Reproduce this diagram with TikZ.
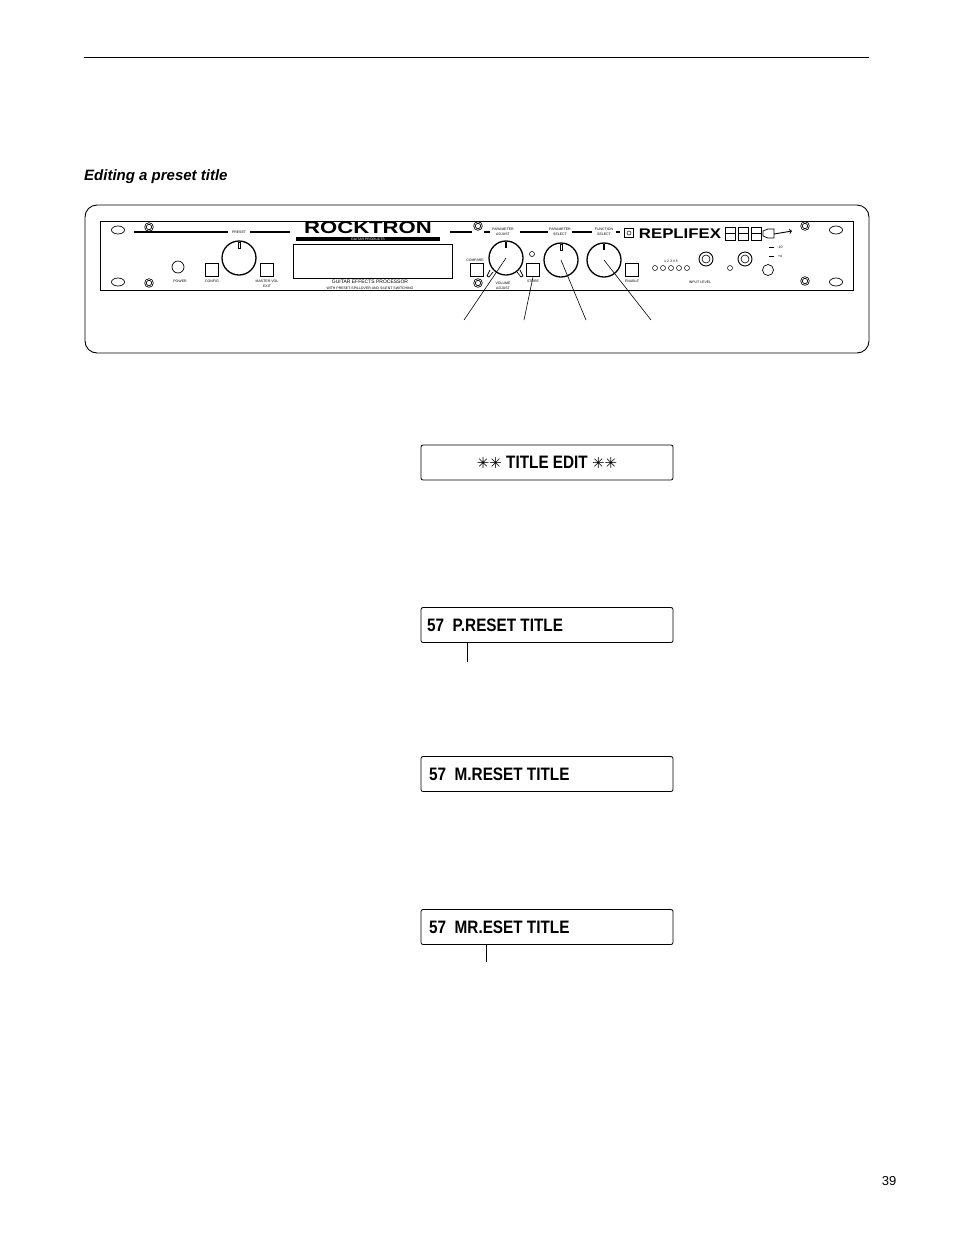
\documentclass[tikz,border=0pt]{standalone}
\usepackage{fontspec}
\usetikzlibrary{shapes.geometric}
\setmainfont{Liberation Sans}
\newfontfamily\condfont[FakeStretch=0.85]{Liberation Sans}
\newfontfamily\symfont{DejaVu Sans}
\begin{document}
\begin{tikzpicture}[x=1pt,y=-1pt,
  ln/.style={line width=0.8pt},
  disp/.style={draw,line width=0.8pt,rounded corners=2pt,minimum width=252pt,minimum height=35pt},
  dtext/.style={font=\condfont\bfseries\fontsize{18}{18}\selectfont,anchor=west,inner sep=0},
  knob/.style={draw,line width=1.3pt,circle,minimum size=34pt,inner sep=0},
  sq/.style={draw,line width=0.7pt,minimum size=13pt,inner sep=0},
  screw/.style={draw,line width=0.8pt,circle,minimum size=7pt,inner sep=0,double,double distance=0.6pt},
  hole/.style={draw,line width=0.7pt,ellipse,minimum width=13pt,minimum height=8pt,inner sep=0},
  tiny/.style={font=\fontsize{3.5}{4}\selectfont,inner sep=0}]
\useasboundingbox (0,0) rectangle (954,1235);
\fill[white] (0,0) rectangle (954,1235);
\draw[line width=0.8pt] (84,57) -- (869,57);
\node[anchor=west,inner sep=0,font=\bfseries\itshape\fontsize{15}{15}\selectfont] (hd) at (84,177) {Editing a preset title};
\node[inner sep=0,font=\fontsize{13}{13}\selectfont] (pg) at (889,1181) {39};
% rack outline
\draw[line width=0.9pt,rounded corners=12pt] (85,205) rectangle (869,353);
\draw[line width=0.8pt] (100,221) rectangle (853,290);
\foreach \p/\x/\y in {h1/118/230,h2/118/282,h3/836/230,h4/836/282} \node[hole] (\p) at (\x,\y) {};
\foreach \p/\x/\y in {s1/149/227,s2/149/283,s3/478/226,s4/478/283,s5/805/226,s6/805/281} \node[screw] (\p) at (\x,\y) {};
\draw[line width=1.2pt] (134,232) -- (228,232) (250,232) -- (290,232) (450,232) -- (472,232) (484,232) -- (490,232) (520,232) -- (548,232) (572,232) -- (592,232) (616,232) -- (620,232);
\node[tiny] (lp) at (239,232) {PRESET};
\node[inner sep=0,font=\bfseries\fontsize{17}{17}\selectfont,xscale=1.3] (logo) at (368,228) {ROCKTRON};
\node[fill=black,text=white,inner sep=0.5pt,minimum width=144pt,font=\fontsize{3.5}{4}\selectfont] (gp) at (368,239) {GUITAR PRODUCTS};
\node[draw,line width=0.7pt,minimum width=159pt,minimum height=34pt,inner sep=0] (disp) at (372.5,261) {};
\node[tiny,font=\fontsize{5}{5}\selectfont] (t1) at (370,282) {GUITAR EFFECTS PROCESSOR};
\node[tiny] (t2) at (370,288) {WITH PRESET-SPILLOVER AND SILENT SWITCHING};
\node[knob] (pk) at (239,258) {};
\draw[line width=0.8pt] (238.5,242) rectangle (240.5,248);
\node[draw,line width=0.7pt,circle,minimum size=12pt,inner sep=0] (pw) at (178,267) {};
\node[tiny] at (180,281) {POWER};
\node[sq] (cfg) at (212,270) {}; \node[tiny] at (212,281) {CONFIG};
\node[sq] (mst) at (267,270) {}; \node[tiny] at (267,281) {MASTER VOL}; \node[tiny] at (267,286) {EXIT};
\node[sq] (cmp) at (477,270) {}; \node[tiny] at (475,260) {COMPARE};
\node[knob] (k1) at (506,258) {};
\draw[line width=1.3pt] (506,242) -- (506,248);
\node[tiny] at (503,229) {PARAMETER}; \node[tiny] at (503,234) {ADJUST};
\node[tiny] at (503,283) {VOLUME}; \node[tiny] at (503,288) {ADJUST};
\draw[line width=0.7pt] (490,270) -- (487,276) -- (489,277) -- (493,272);
\draw[line width=0.7pt] (520,270) -- (523,276) -- (521,277) -- (517,272);
\node[draw,circle,line width=0.6pt,minimum size=5pt,inner sep=0] (sl) at (532,254) {};
\node[sq] (sto) at (533,270) {}; \node[tiny] at (533,281) {STORE};
\node[knob] (k2) at (561,260) {};
\draw[line width=0.8pt] (560,244) rectangle (562,250);
\node[tiny] at (560,229) {PARAMETER}; \node[tiny] at (560,234) {SELECT};
\node[knob] (k3) at (604,260) {};
\draw[line width=1.3pt] (604,244) -- (604,250);
\node[tiny] at (604,229) {FUNCTION}; \node[tiny] at (604,234) {SELECT};
\node[sq] (en) at (632,270) {}; \node[tiny] at (632,281) {ENABLE};
\node[draw,line width=0.7pt,minimum size=9pt,inner sep=0] (jk) at (629,233) {};
\node[draw,circle,line width=0.5pt,minimum size=4pt,inner sep=0] at (629,233) {};
\node[inner sep=0,font=\bfseries\fontsize{14}{14}\selectfont,xscale=1.2] (rep) at (680,234) {REPLIFEX};
\foreach \x in {730,743,756} {\draw[line width=0.8pt] (\x-5,227) rectangle (\x+5,240); \draw (\x-5,233)--(\x+5,233);}
\draw[line width=0.7pt] (763,231) -- (768,229) -- (774,229) -- (774,238) -- (768,238) -- (763,236) -- cycle;
\draw[line width=0.9pt,->] (774,234) -- (792,231);
\foreach \x [count=\i] in {655,663,671,679,687} {\node[draw,circle,line width=0.5pt,minimum size=5pt,inner sep=0] (led\i) at (\x,268) {};}
\node[tiny] at (671,261) {1 2 3 4 5};
\node[draw,circle,line width=0.9pt,minimum size=14pt,inner sep=0] (r1) at (706,259) {};
\node[draw,circle,line width=0.6pt,minimum size=8pt,inner sep=0] at (706,259) {};
\node[draw,circle,line width=0.9pt,minimum size=14pt,inner sep=0] (r2) at (745,259) {};
\node[draw,circle,line width=0.6pt,minimum size=8pt,inner sep=0] at (745,259) {};
\node[tiny] at (700,282) {INPUT LEVEL};
\node[draw,circle,line width=0.5pt,minimum size=5pt,inner sep=0] at (730,268) {};
\node[draw,circle,line width=0.7pt,minimum size=11pt,inner sep=0] (ph) at (768,270) {};
\draw[line width=1pt] (769,247) -- (774,247) (769,256) -- (774,256);
\node[tiny] at (780,247) {-10}; \node[tiny] at (780,256) {+4};
% leader lines
\coordinate (a1) at (464,320); \coordinate (a2) at (524,320);
\coordinate (a3) at (586,320); \coordinate (a4) at (651,320);
\draw[line width=0.6pt] (a1) -- (k1.center);
\draw[line width=0.6pt] (a2) -- (sto.south);
\draw[line width=0.6pt] (a3) -- (k2.center);
\draw[line width=0.6pt] (a4) -- (k3.center);
% displays
\node[disp] (d1) at (547,462.5) {};
\node[inner sep=0,font=\condfont\bfseries\fontsize{18}{18}\selectfont] at (d1) {{\symfont\fontsize{15}{15}\selectfont ✳✳} TITLE EDIT {\symfont\fontsize{15}{15}\selectfont ✳✳}};
\node[disp] (d2) at (547,625) {};
\node[dtext] at (427,625) {57\ \ P.RESET TITLE};
\coordinate (c2) at (467,662);
\draw[line width=0.8pt] (467,642) -- (c2);
\node[disp] (d3) at (547,774) {};
\node[dtext] at (429,774) {57\ \ M.RESET TITLE};
\node[disp] (d4) at (547,927) {};
\node[dtext] at (429,927) {57\ \ MR.ESET TITLE};
\coordinate (c4) at (486,962);
\draw[line width=0.8pt] (486,944) -- (c4);
\end{tikzpicture}
\end{document}
